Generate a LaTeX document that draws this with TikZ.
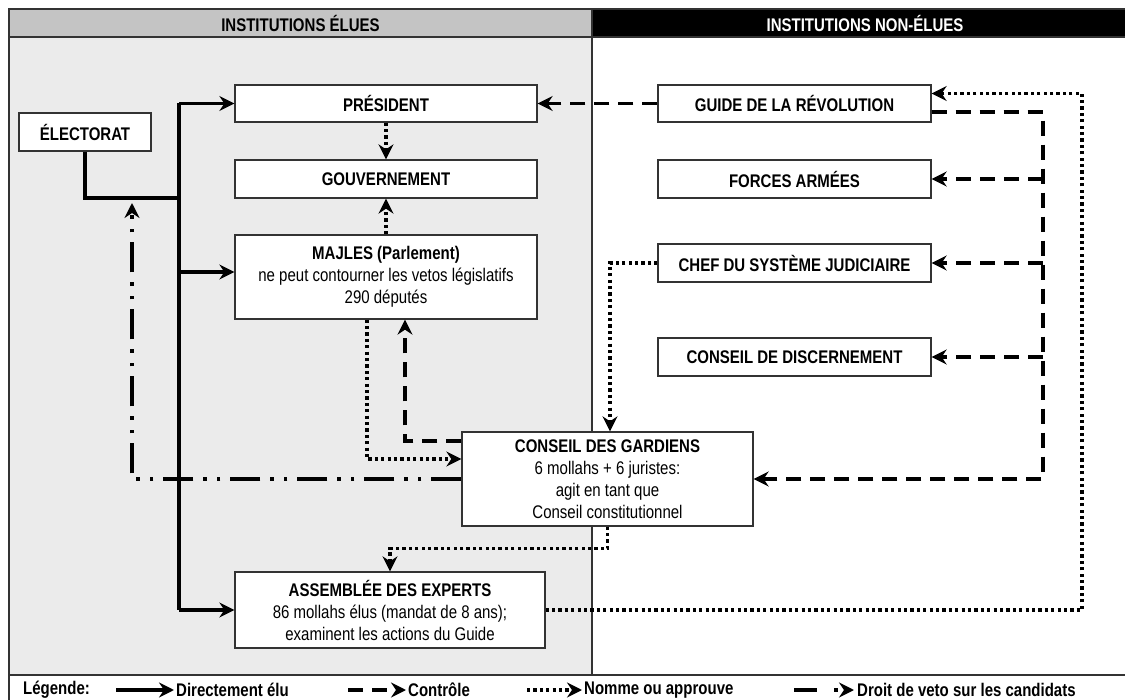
\documentclass[tikz,border=0pt]{standalone}
\usepackage{fontspec}
\setmainfont{Liberation Sans}[FakeStretch=0.82]
\usepackage{tikz}
\usetikzlibrary{arrows.meta}
\newcommand\taille{\fontsize{18.3}{22}\selectfont}
\definecolor{gristete}{HTML}{C4C4C4}
\definecolor{grisfond}{HTML}{EBEBEB}
\definecolor{cadre}{HTML}{333333}
\tikzset{
  boite/.style={draw=cadre, line width=1.3pt, fill=white, align=center, inner sep=0pt},
  legende/.style={anchor=west, inner sep=0pt, font=\taille\bfseries},
  pointe/.style={-{Stealth[length=15pt,width=15pt,inset=5pt]}},
  trait/.style={line width=3.6pt},
  elu/.style={trait, pointe},
  controle/.style={trait, dash pattern=on 15pt off 9pt, pointe},
  nomme/.style={trait, dash pattern=on 3.2pt off 3.2pt, pointe},
  veto/.style={trait, dash pattern=on 30pt off 10pt on 3.5pt off 10pt on 3.5pt off 10pt, pointe},
}

\begin{document}
\begin{tikzpicture}[x=1pt,y=-1pt,font=\taille]
\useasboundingbox (0,0) rectangle (1125,700);

% fond et en-tetes
\fill[grisfond] (9,37) rectangle (592,675);
\fill[gristete] (9,9) rectangle (592,37);
\fill[black] (592,9) rectangle (1140,37);
\draw[cadre, line width=1.5pt] (9,710) -- (9,9) -- (1140,9);
\draw[cadre, line width=1.5pt] (9,37) -- (1140,37);
\draw[cadre, line width=1.5pt] (9,675) -- (1140,675);
\draw[cadre, line width=1.5pt] (592,9) -- (592,675);
\node[font=\taille\bfseries] (titre-elues) at (300.5,23.5) {INSTITUTIONS ÉLUES};
\node[font=\taille\bfseries, text=white] (titre-nonelues) at (865,23.5) {INSTITUTIONS NON-ÉLUES};

% institutions elues
\node[boite, minimum width=132pt, minimum height=38pt] (electorat) at (85,132) {\textbf{ÉLECTORAT}};
\node[boite, minimum width=302pt, minimum height=37pt] (president) at (386,103.5) {\textbf{PRÉSIDENT}};
\node[boite, minimum width=302pt, minimum height=38pt] (gouvernement) at (386,179) {\textbf{GOUVERNEMENT}};
\node[boite, minimum width=302pt, minimum height=84pt] (majles) at (386,277) {\textbf{MAJLES (Parlement)}\\ne peut contourner les vetos législatifs\\290 députés};
\node[boite, minimum width=291pt, minimum height=94pt] (gardiens) at (607.5,479) {\textbf{CONSEIL DES GARDIENS}\\6 mollahs + 6 juristes:\\agit en tant que\\Conseil constitutionnel};
\node[boite, minimum width=310pt, minimum height=76pt] (experts) at (390,610) {\textbf{ASSEMBLÉE DES EXPERTS}\\86 mollahs élus (mandat de 8 ans);\\examinent les actions du Guide};

% institutions non elues
\node[boite, minimum width=273pt, minimum height=37pt] (guide) at (794.5,103.5) {\textbf{GUIDE DE LA RÉVOLUTION}};
\node[boite, minimum width=273pt, minimum height=38pt] (forces) at (794.5,179) {\textbf{FORCES ARMÉES}};
\node[boite, minimum width=273pt, minimum height=38pt] (chef) at (794.5,263) {\textbf{CHEF DU SYSTÈME JUDICIAIRE}};
\node[boite, minimum width=273pt, minimum height=38pt] (discernement) at (794.5,357) {\textbf{CONSEIL DE DISCERNEMENT}};

\coordinate (tronc) at (179,198);
\coordinate (majles-in) at ([yshift=5pt]majles.west);
\coordinate (ctrl) at (1043,0);
\coordinate (nom) at (1082,0);
\coordinate (guide-bas) at ([yshift=-8.5pt]guide.east);
\coordinate (guide-haut) at ([yshift=10pt]guide.east);
\coordinate (veto-fin) at (132,203);

% election directe
\draw[trait] (electorat.south) |- (tronc);
\draw[trait] (tronc |- president.west) -- (tronc |- experts.west);
\draw[elu] (tronc |- president.west) -- (president.west);
\draw[elu] (tronc |- majles-in) -- (majles-in);
\draw[elu] (tronc |- experts.west) -- (experts.west);

% controle
\draw[controle] (guide.west) -- (president.east);
\draw[controle] (guide-bas) -| (ctrl |- gardiens.east) -- (gardiens.east);
\draw[controle] (ctrl |- forces.east) -- (forces.east);
\draw[controle] (ctrl |- chef.east) -- (chef.east);
\draw[controle] (ctrl |- discernement.east) -- (discernement.east);
\draw[controle] ([yshift=38pt]gardiens.west) -| ([xshift=19pt]majles.south);

% nomme ou approuve
\draw[nomme] (president.south) -- (gouvernement.north);
\draw[nomme] (majles.north) -- (gouvernement.south);
\draw[nomme] (experts.east) -| (nom |- guide-haut) -- (guide-haut);
\draw[nomme] (chef.west) -| ([xshift=2.5pt]gardiens.north);
\draw[nomme] (gardiens.south) -- ++(0,22) -| (experts.north);
\draw[nomme] ([xshift=-19pt]majles.south) |- ([yshift=20pt]gardiens.west);

% veto
\draw[veto] (gardiens.west) -| (veto-fin);

% legende
\node[legende] (leg-titre) at (23,690) {Légende:};
\node[legende] (leg-elu) at (176,690) {Directement élu};
\node[legende] (leg-controle) at (408,690) {Contrôle};
\node[legende] (leg-nomme) at (584,690) {Nomme ou approuve};
\node[legende] (leg-veto) at (857,690) {Droit de veto sur les candidats};
\draw[elu] ([xshift=-60pt]leg-elu.west) -- ([xshift=-2pt]leg-elu.west);
\draw[controle] ([xshift=-60pt]leg-controle.west) -- ([xshift=-2pt]leg-controle.west);
\draw[nomme] ([xshift=-57pt]leg-nomme.west) -- ([xshift=-2pt]leg-nomme.west);
\draw[trait, pointe, dash pattern=on 23pt off 17pt on 3.5pt off 30pt] ([xshift=-63pt]leg-veto.west) -- ([xshift=-3pt]leg-veto.west);
\end{tikzpicture}
\end{document}
